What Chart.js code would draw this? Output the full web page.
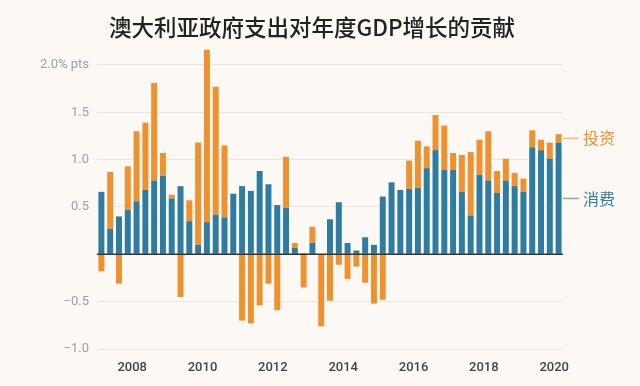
<!DOCTYPE html>
<html>
<head>
<meta charset="utf-8">
<script src="https://cdn.jsdelivr.net/npm/chart.js@4.4.1/dist/chart.umd.min.js"></script>
<style>
  html, body { margin: 0; padding: 0; background: #fcf9f5; }
  #wrap { width: 640px; height: 386px; position: relative; }
</style>
</head>
<body>
<div id="wrap"><canvas id="chart"></canvas></div>
<script>
// quarterly categories, 2007 Q1 .. 2020 Q1
const quarters = [
  '2007Q1','2007Q2','2007Q3','2007Q4','2008Q1','2008Q2','2008Q3','2008Q4',
  '2009Q1','2009Q2','2009Q3','2009Q4','2010Q1','2010Q2','2010Q3','2010Q4',
  '2011Q1','2011Q2','2011Q3','2011Q4','2012Q1','2012Q2','2012Q3','2012Q4',
  '2013Q1','2013Q2','2013Q3','2013Q4','2014Q1','2014Q2','2014Q3','2014Q4',
  '2015Q1','2015Q2','2015Q3','2015Q4','2016Q1','2016Q2','2016Q3','2016Q4',
  '2017Q1','2017Q2','2017Q3','2017Q4','2018Q1','2018Q2','2018Q3','2018Q4',
  '2019Q1','2019Q2','2019Q3','2019Q4','2020Q1'
];

// contribution of government consumption (% pts)
const consumption = [
  0.66, 0.27, 0.40, 0.47, 0.56, 0.68, 0.78, 0.83,
  0.59, 0.72, 0.35, 0.10, 0.34, 0.42, 0.39, 0.64,
  0.72, 0.67, 0.88, 0.74, 0.52, 0.49, 0.07, 0.01,
  0.12, 0.00, 0.37, 0.55, 0.12, 0.04, 0.18, 0.10,
  0.61, 0.76, 0.68, 0.69, 0.70, 0.91, 1.10, 0.89,
  0.89, 0.66, 0.41, 0.84, 0.78, 0.65, 0.78, 0.72,
  0.66, 1.13, 1.10, 1.01, 1.18
];

// contribution of government investment (% pts)
const investment = [
  -0.18, 0.60, -0.31, 0.46, 0.74, 0.71, 1.03, 0.24,
  0.04, -0.45, 0.22, 1.08, 1.82, 1.35, 0.76, 0.00,
  -0.70, -0.73, -0.54, -0.31, -0.59, 0.54, 0.05, -0.35,
  0.17, -0.76, -0.49, -0.11, -0.26, -0.13, -0.30, -0.52,
  -0.48, 0.00, 0.00, 0.30, 0.50, 0.23, 0.37, 0.47,
  0.18, 0.39, 0.67, 0.37, 0.52, 0.23, 0.23, 0.14,
  0.14, 0.18, 0.11, 0.17, 0.09
];

const yearTicks = [2008, 2010, 2012, 2014, 2016, 2018, 2020];
const yTicks = [-1.0, -0.5, 0, 0.5, 1.0, 1.5, 2.0];

const blue = '#2f7ca3';
const orange = '#f0912f';
const cjk = "'Noto Sans CJK SC', 'Noto Sans', sans-serif";

// background, zero line, title and the labels on the right
const decor = {
  id: 'decor',
  beforeDraw(chart) {
    const ctx = chart.ctx;
    ctx.save();
    ctx.fillStyle = '#fcf9f5';
    ctx.fillRect(0, 0, chart.width, chart.height);
    ctx.restore();
  },
  afterDatasetsDraw(chart) {
    const ctx = chart.ctx;
    const area = chart.chartArea;
    const y0 = chart.scales.y.getPixelForValue(0);
    ctx.save();
    ctx.strokeStyle = '#333';
    ctx.lineWidth = 1.5;
    ctx.beginPath();
    ctx.moveTo(area.left, y0);
    ctx.lineTo(area.right, y0);
    ctx.stroke();
    ctx.restore();
  },
  afterDraw(chart) {
    const ctx = chart.ctx;
    const yScale = chart.scales.y;
    const last = quarters.length - 1;
    ctx.save();
    ctx.fillStyle = '#222';
    ctx.font = '500 22.5px ' + cjk;
    ctx.textAlign = 'center';
    ctx.textBaseline = 'middle';
    ctx.fillText('澳大利亚政府支出对年度GDP增长的贡献', 312, 27);

    const items = [
      { text: '投资', color: orange, value: consumption[last] + investment[last] / 2 },
      { text: '消费', color: blue, value: consumption[last] / 2 }
    ];
    ctx.font = '16px ' + cjk;
    ctx.textAlign = 'left';
    items.forEach(it => {
      const y = yScale.getPixelForValue(it.value);
      ctx.strokeStyle = it.color;
      ctx.globalAlpha = 0.6;
      ctx.lineWidth = 1.5;
      ctx.beginPath();
      ctx.moveTo(chart.chartArea.right, y);
      ctx.lineTo(chart.chartArea.right + 16, y);
      ctx.stroke();
      ctx.globalAlpha = 1;
      ctx.fillStyle = it.color;
      ctx.fillText(it.text, chart.chartArea.right + 20, y);
    });
    ctx.restore();
  }
};

new Chart(document.getElementById('chart'), {
  type: 'bar',
  data: {
    labels: quarters,
    datasets: [
      { label: '消费', data: consumption, backgroundColor: blue, borderWidth: 0 },
      { label: '投资', data: investment, backgroundColor: orange, borderWidth: 0 }
    ]
  },
  options: {
    responsive: true,
    maintainAspectRatio: false,
    animation: false,
    datasets: { bar: { barPercentage: 0.68, categoryPercentage: 1.0 } },
    layout: { padding: { top: 46, right: 77, bottom: 11, left: 0 } },
    plugins: {
      legend: { display: false },
      title: { display: false },
      tooltip: { enabled: false }
    },
    scales: {
      x: {
        stacked: true,
        display: false
      },
      years: {
        type: 'linear',
        position: 'bottom',
        offset: false,
        min: 0,
        max: quarters.length,
        afterBuildTicks(scale) {
          // year labels sit at the start of each year's first quarter
          scale.ticks = yearTicks.map(yr => ({ value: (yr - 2007) * 4 }));
        },
        afterFit(scale) { scale.height = 26; },
        grid: { display: false, drawTicks: false, offset: false },
        border: { display: false },
        ticks: {
          padding: 11,
          color: '#444',
          maxRotation: 0,
          font: { family: 'Roboto', size: 13, weight: '500' },
          callback: v => String(2007 + v / 4)
        }
      },
      y: {
        stacked: true,
        min: -1.0,
        max: 2.2,
        afterBuildTicks(scale) {
          scale.ticks = yTicks.map(v => ({ value: v }));
        },
        afterFit(scale) { scale.width = 97; },
        border: { display: false },
        grid: {
          color: ctx => ctx.tick && ctx.tick.value === 0 ? 'rgba(0,0,0,0)' : '#e9e5e0',
          lineWidth: 1,
          drawTicks: false
        },
        ticks: {
          padding: 8,
          color: '#a0a0a0',
          font: { family: 'Roboto', size: 13 },
          callback: v => {
            if (v === 0) return '';
            if (v === 2) return '2.0% pts';
            return (v < 0 ? '\u2212' : '') + Math.abs(v).toFixed(1);
          }
        }
      }
    }
  },
  plugins: [decor]
});
</script>
</body>
</html>
